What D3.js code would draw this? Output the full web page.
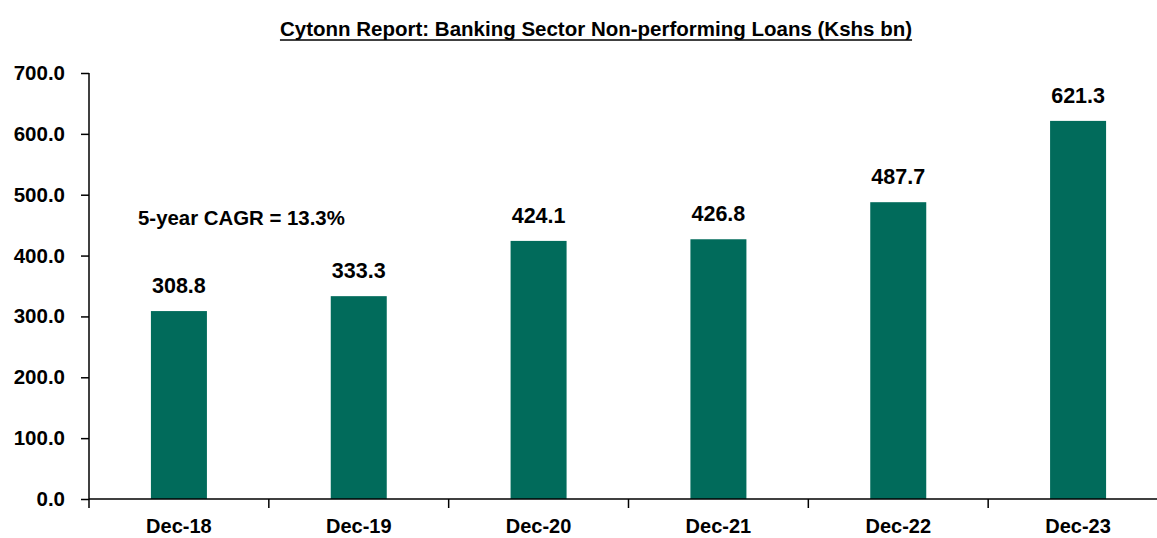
<!DOCTYPE html>
<html><head><meta charset="utf-8">
<script src="https://cdn.jsdelivr.net/npm/d3@7"></script>
<style>
html,body{margin:0;padding:0;background:#fff;}
svg{display:block;}
text{font-family:"Liberation Sans",Arial,sans-serif;font-weight:bold;fill:#000;}
</style></head>
<body>
<svg id="chart" width="1157" height="538"></svg>
<script>
const categories = ["Dec-18","Dec-19","Dec-20","Dec-21","Dec-22","Dec-23"];
const values = [308.8, 333.3, 424.1, 426.8, 487.7, 621.3];
const yTicks = [0,100,200,300,400,500,600,700];
const titleText = "Cytonn Report: Banking Sector Non-performing Loans (Kshs bn)";
const noteText = "5-year CAGR = 13.3%";

const svg = d3.select("#chart");
const x = d3.scaleBand().domain(categories).range([89, 1168]).paddingInner(0).paddingOuter(0);
const y = d3.scaleLinear().domain([0,700]).range([499, 73]);
const barW = 56;

function fitText(sel, target){
  const w = sel.node().getComputedTextLength();
  const fs = parseFloat(sel.attr("font-size"));
  sel.attr("font-size", (fs*target/w).toFixed(2));
}

// title
const t = svg.append("text").attr("x", 596).attr("y", 36).attr("text-anchor","middle")
  .attr("font-size", 17).text(titleText);
fitText(t, 632);
const tb = t.node().getBBox();
svg.append("line").attr("x1", tb.x).attr("x2", tb.x+tb.width).attr("y1", 40).attr("y2", 40)
  .attr("stroke","#000").attr("stroke-width",1.5);

// bars
svg.selectAll("rect.bar").data(values).join("rect").attr("class","bar")
  .attr("x",(d,i)=>x(categories[i])+x.bandwidth()/2-barW/2)
  .attr("width",barW)
  .attr("y",d=>y(d)).attr("height",d=>y(0)-y(d))
  .attr("fill","#016b5b");

// value labels
svg.selectAll("text.val").data(values).join("text").attr("class","val")
  .attr("x",(d,i)=>x(categories[i])+x.bandwidth()/2)
  .attr("y",d=>y(d)-18)
  .attr("text-anchor","middle").attr("font-size",21.5)
  .text(d=>d.toFixed(1));

// y axis
const yAxis = d3.axisLeft(y).tickValues(yTicks).tickFormat(d3.format(".1f")).tickSize(8).tickPadding(16);
const gy = svg.append("g").attr("transform","translate(89,0)").call(yAxis);
gy.select(".domain").attr("stroke","#000").attr("stroke-width",1.5).attr("d","M0,73V499");
gy.selectAll(".tick line").attr("stroke","#000").attr("stroke-width",1.5);
gy.selectAll(".tick text").attr("font-size",20.5).attr("font-family","Liberation Sans, Arial, sans-serif").attr("font-weight","bold").attr("fill","#000");

// x axis
const gx = svg.append("g").attr("transform","translate(0,499)");
gx.append("line").attr("x1",89).attr("x2",1168).attr("y1",0).attr("y2",0).attr("stroke","#000").attr("stroke-width",1.5);
const edges = categories.map(c=>x(c));
gx.selectAll("line.tk").data(edges).join("line").attr("class","tk")
  .attr("x1",d=>d).attr("x2",d=>d).attr("y1",0).attr("y2",9).attr("stroke","#000").attr("stroke-width",1.5);
gx.selectAll("text.cat").data(categories).join("text").attr("class","cat")
  .attr("x",d=>x(d)+x.bandwidth()/2).attr("y",34).attr("text-anchor","middle")
  .attr("font-size",20).text(d=>d);

// note
const n = svg.append("text").attr("x",138).attr("y",225).attr("font-size",19).text(noteText);
fitText(n, 207);
</script>
</body></html>
